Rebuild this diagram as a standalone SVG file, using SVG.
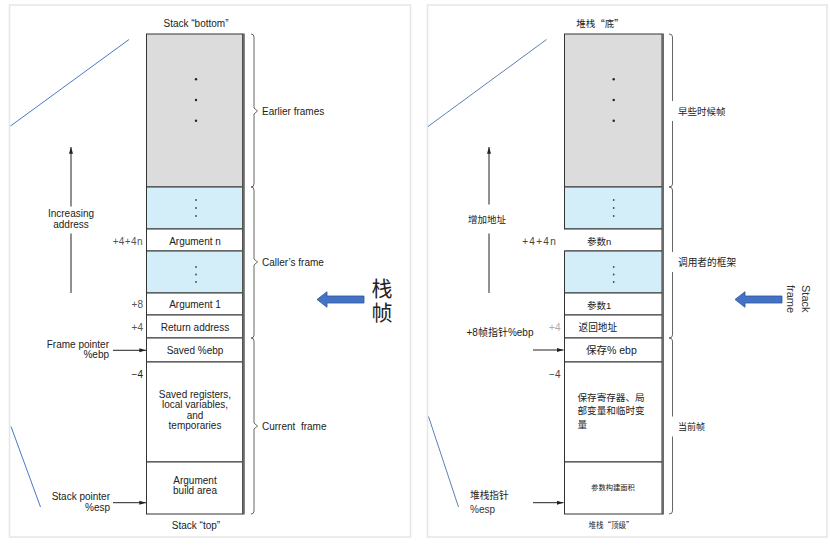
<svg xmlns="http://www.w3.org/2000/svg" width="830" height="546" viewBox="0 0 830 546">
<style>
  .t{font-family:"Liberation Sans",Arial,sans-serif;font-size:10px;fill:#222}
  .c{font-family:"Liberation Sans","Noto Sans CJK SC",sans-serif;fill:#222}
  .cj{font-family:"Noto Sans CJK SC","Liberation Sans",sans-serif;fill:#222}
  .m{text-anchor:middle}
  .e{text-anchor:end}
  .off{fill:#555}
  .cell{stroke:#333;stroke-width:1}
  .gray{fill:#dcdcdc}
  .blue{fill:#d3eef9}
  .white{fill:#fff}
  .edge{stroke:#6a6a6a;stroke-width:2.4;fill:none}
  .brace{fill:none;stroke:#555;stroke-width:0.9}
  .ptr{stroke:#222;stroke-width:1;fill:none}
  .diag{stroke:#4a78c8;stroke-width:1;fill:none}
  .diag2{stroke:#5f7fb3;stroke-width:1;fill:none}
  .dot{fill:#222}
  .bdot{fill:#3a4a60}
  .block{fill:#4472c4;stroke:#2f5597;stroke-width:0.8}
  .frame{fill:none;stroke:#e6e6e6;stroke-width:1.5}
  .mask{fill:#fff}
</style>
<defs>
  <marker id="ah" viewBox="0 0 8 6" refX="8" refY="3" markerWidth="7" markerHeight="5" orient="auto" markerUnits="userSpaceOnUse">
    <path d="M0,0.6 L8,3 L0,5.4 z" fill="#222"/>
  </marker>
</defs>
<rect width="830" height="546" fill="#fff"/>

<!-- panel frames -->
<rect class="frame" x="9.5" y="5" width="401" height="532"/>
<rect class="frame" x="427.5" y="5" width="399.5" height="532"/>

<!-- LEFT PANEL -->
<g id="left-panel">
  <g id="l-earlier"><rect class="cell gray" x="146.5" y="34" width="96" height="153"/>
    <circle class="dot" cx="196" cy="79.3" r="1.2"/><circle class="dot" cx="196" cy="100" r="1.2"/><circle class="dot" cx="196" cy="120.7" r="1.2"/></g>
  <g id="l-blue1"><rect class="cell blue" x="146.5" y="187" width="96" height="42"/>
    <circle class="bdot" cx="196" cy="200" r="0.9"/><circle class="bdot" cx="196" cy="208" r="0.9"/><circle class="bdot" cx="196" cy="216" r="0.9"/></g>
  <g id="l-argn"><rect class="cell white" x="146.5" y="229" width="96" height="22"/>
    <text class="t m" x="195" y="244.5">Argument n</text></g>
  <g id="l-blue2"><rect class="cell blue" x="146.5" y="251" width="96" height="42"/>
    <circle class="bdot" cx="196" cy="267" r="0.9"/><circle class="bdot" cx="196" cy="274.5" r="0.9"/><circle class="bdot" cx="196" cy="282" r="0.9"/></g>
  <g id="l-arg1"><rect class="cell white" x="146.5" y="293" width="96" height="22"/>
    <text class="t m" x="195" y="307.5">Argument 1</text></g>
  <g id="l-ret"><rect class="cell white" x="146.5" y="315" width="96" height="23"/>
    <text class="t m" x="195" y="330.5">Return address</text></g>
  <g id="l-ebp"><rect class="cell white" x="146.5" y="338" width="96" height="24"/>
    <text class="t m" x="195" y="353.5">Saved %ebp</text></g>
  <g id="l-saved"><rect class="cell white" x="146.5" y="362" width="96" height="100"/>
    <text class="t m" x="195" y="397.5">Saved registers,</text>
    <text class="t m" x="195" y="408">local variables,</text>
    <text class="t m" x="195" y="418.5">and</text>
    <text class="t m" x="195" y="429">temporaries</text></g>
  <g id="l-build"><rect class="cell white" x="146.5" y="462" width="96" height="52"/>
    <text class="t m" x="195" y="484">Argument</text>
    <text class="t m" x="195" y="494">build area</text></g>
  <line class="edge" x1="243.6" y1="33.5" x2="243.6" y2="514.5"/>

  <text class="t m" x="196" y="27">Stack “bottom”</text>
  <text class="t m" x="196" y="528.5">Stack “top”</text>
  <text class="t" x="262" y="114.5">Earlier frames</text>
  <text class="t" x="262" y="265.5">Caller’s frame</text>
  <text class="t" x="262" y="429.5" xml:space="preserve">Current  frame</text>
  <text class="t m" x="71" y="217">Increasing</text>
  <text class="t m" x="71" y="228">address</text>
  <text class="t e off" x="143" y="244.5" style="letter-spacing:0.4px">+4+4n</text>
  <text class="t e off" x="143" y="307.5">+8</text>
  <text class="t e off" x="143" y="330.5">+4</text>
  <text class="t e" x="143" y="377.5">−4</text>
  <text class="t e" x="109" y="347.5">Frame pointer</text>
  <text class="t e" x="109" y="357.5">%ebp</text>
  <text class="t e" x="110" y="500">Stack pointer</text>
  <text class="t e" x="110" y="511">%esp</text>
  <text class="c m" x="382" y="295.5" style="font-size:21px">栈</text>
  <text class="c m" x="382" y="320" style="font-size:21px">帧</text>
</g>

<!-- RIGHT PANEL -->
<g id="right-panel">
  <g id="r-earlier"><rect class="cell gray" x="564.5" y="34" width="97.5" height="153"/>
    <circle class="dot" cx="613.7" cy="79.3" r="1.2"/><circle class="dot" cx="613.7" cy="100" r="1.2"/><circle class="dot" cx="613.7" cy="120.7" r="1.2"/></g>
  <g id="r-blue1"><rect class="cell blue" x="564.5" y="187" width="97.5" height="42"/>
    <circle class="bdot" cx="613.7" cy="200" r="0.9"/><circle class="bdot" cx="613.7" cy="208" r="0.9"/><circle class="bdot" cx="613.7" cy="216" r="0.9"/></g>
  <g id="r-argn"><rect class="cell white" x="564.5" y="229" width="97.5" height="22"/></g>
  <g id="r-blue2"><rect class="cell blue" x="564.5" y="251" width="97.5" height="42"/>
    <circle class="bdot" cx="613.7" cy="267" r="0.9"/><circle class="bdot" cx="613.7" cy="274.5" r="0.9"/><circle class="bdot" cx="613.7" cy="282" r="0.9"/></g>
  <g id="r-arg1"><rect class="cell white" x="564.5" y="293" width="97.5" height="22"/>
    <text class="c" x="587" y="308.5" style="font-size:9.5px">参数1</text></g>
  <g id="r-ret"><rect class="cell white" x="564.5" y="315" width="97.5" height="23"/>
    <text class="c" x="578.5" y="331" style="font-size:9.7px">返回地址</text></g>
  <g id="r-ebp"><rect class="cell white" x="564.5" y="338" width="97.5" height="24"/>
    <text class="c" x="586" y="354" style="font-size:10.5px">保存% ebp</text></g>
  <g id="r-saved"><rect class="cell white" x="564.5" y="362" width="97.5" height="100"/>
    <text class="c" x="577.5" y="400.5" style="font-size:9.6px">保存寄存器、局</text>
    <text class="c" x="577.5" y="414" style="font-size:9.6px">部变量和临时变</text>
    <text class="c" x="577.5" y="428" style="font-size:9.6px">量</text></g>
  <g id="r-build"><rect class="cell white" x="564.5" y="462" width="97.5" height="52"/>
    <text class="c m" x="613" y="489.5" style="font-size:7.3px">参数构建面积</text></g>
  <line class="edge" x1="663" y1="33.5" x2="663" y2="514.5" style="stroke-width:2"/>

  <!-- label with white box covering column edge -->
  <rect class="mask" x="522" y="229.6" width="43.2" height="20.8"/>
  <text class="c e" x="557" y="244.5" style="font-size:10px;letter-spacing:1.3px;fill:#444">+4+4n</text>
  <text class="c" x="587" y="244.5" style="font-size:9.5px">参数n</text>

  <text class="cj m" x="600" y="27" style="font-size:9.5px">堆栈“底”</text>
  <text class="cj m" x="611" y="527.5" style="font-size:7.5px">堆栈“顶级”</text>
  <text class="c m" x="487" y="223" style="font-size:9.5px">增加地址</text>
  <text class="c" x="466.5" y="335.5" style="font-size:10px">+8帧指针%ebp</text>
  <text class="t e" x="560.5" y="330.5" style="fill:#aaa">+4</text>
  <text class="t e" x="560.5" y="377.5" style="fill:#444">−4</text>
  <text class="c" x="470" y="498.5" style="font-size:9.7px">堆栈指针</text>
  <text class="t" x="470" y="512.5" style="fill:#333">%esp</text>
  <text class="t" transform="translate(802,285) rotate(90)" style="font-size:11px;fill:#333"><tspan x="0" y="0">Stack</tspan><tspan x="0" y="15">frame</tspan></text>
</g>

<!-- CONNECTORS -->
<g id="connectors">
  <!-- braces left -->
  <path class="brace" d="M251,34 Q254,34 254,37 V108 L257.5,111 L254,114 V184 Q254,187 251,187"/>
  <path class="brace" d="M251,187 Q254,187 254,190 V259 L257.5,262 L254,265 V335 Q254,338 251,338"/>
  <path class="brace" d="M251,338 Q254,338 254,341 V423 L257.5,426 L254,429 V511 Q254,514 251,514"/>
  <!-- braces right -->
  <path class="brace" d="M669,34 Q672.5,34 672.5,37 V108 L676,111 L672.5,114 V184 Q672.5,187 669,187"/>
  <path class="brace" d="M669,187 Q672.5,187 672.5,190 V259 L676,262 L672.5,265 V335 Q672.5,338 669,338"/>
  <path class="brace" d="M669,338 Q672.5,338 672.5,341 V423 L676,426 L672.5,429 V511 Q672.5,514 669,514"/>

  <!-- increasing address arrows -->
  <path class="ptr" d="M71,206.5 V147" marker-end="url(#ah)"/>
  <path class="ptr" d="M71,233.5 V293"/>
  <path class="ptr" d="M489,204.5 V147" marker-end="url(#ah)"/>
  <path class="ptr" d="M489,233.5 V293"/>

  <!-- pointer arrows -->
  <path class="ptr" d="M113,350.3 H146" marker-end="url(#ah)"/>
  <path class="ptr" d="M113,502.7 H146" marker-end="url(#ah)"/>
  <path class="ptr" d="M533,350 H563.5" marker-end="url(#ah)"/>
  <path class="ptr" d="M533,502.7 H563.5" marker-end="url(#ah)"/>

  <!-- diagonal lines -->
  <path class="diag" d="M10.5,126 L129,39.5"/>
  <path class="diag" d="M11,426.5 L40.5,507"/>
  <path class="diag2" d="M428,126.5 L546.5,39.5"/>
  <path class="diag2" d="M428.5,416.5 L458.5,507"/>

  <!-- block arrows -->
  <path class="block" d="M317,299.5 L327,291.7 V296 H364 V303 H327 V307.3 Z"/>
  <path class="block" d="M735,299.5 L745,291.7 V296 H782 V303 H745 V307.3 Z"/>
</g>

<!-- right-panel label boxes covering brace tips -->
<g id="r-labels">
  <rect class="mask" x="671.3" y="101" width="74" height="20"/>
  <text class="c" x="678" y="115" style="font-size:9.5px">早些时候帧</text>
  <rect class="mask" x="671.3" y="252" width="78" height="20"/>
  <text class="c" x="678" y="266" style="font-size:9.7px">调用者的框架</text>
  <rect class="mask" x="671.3" y="416.5" width="74" height="20"/>
  <text class="c" x="678" y="429.5" style="font-size:9px">当前帧</text>
</g>
</svg>
